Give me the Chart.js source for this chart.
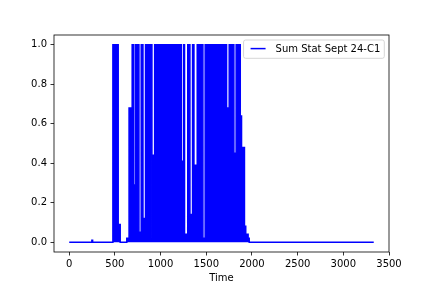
<!DOCTYPE html>
<html lang="en">
<head>
    <meta charset="UTF-8">
    <title>Sum Stat Sept 24-C1</title>
    <script src="https://cdn.jsdelivr.net/npm/chart.js"></script>
    <style>
        html, body { margin: 0; padding: 0; background: #fff; }
        #wrap { width: 432px; height: 288px; }
    </style>
</head>
<body>
    <div id="wrap"><canvas id="sumStatChart" width="432" height="288"></canvas></div>

    <script>
        // step breakpoints (Time) and the signal level that holds from each one
        const timeBreaks = [0, 248, 256, 478, 536, 558, 630, 655, 689, 701, 722, 763, 788, 807, 835,
                            905, 916, 924, 935, 1228, 1253, 1262, 1297, 1321, 1350, 1365, 1401, 1463,
                            1488, 1722, 1751, 1802, 1827, 1872, 1886, 1898, 1918, 1932, 1958, 1970, 3333];
        const sumStat = [0, 0.01, 0, 1, 0.09, 0, 0.02, 0.68, 1, 0.29, 1, 0.05, 1, 0.12, 1,
                         0.02, 0.44, 0.02, 1, 0.41, 1, 0.04, 1, 0.14, 1, 0.39, 1, 0.02,
                         1, 0.68, 1, 0.45, 1, 0.64, 0.41, 0.48, 0.08, 0.04, 0.02, 0, 0];
        const xTicks = [0, 500, 1000, 1500, 2000, 2500, 3000, 3500];
        const yTicks = [0, 0.2, 0.4, 0.6, 0.8, 1.0];
        const seriesLabel = 'Sum Stat Sept 24-C1';

        Chart.defaults.font.family = 'DejaVu Sans';
        Chart.defaults.font.size = 10;
        Chart.defaults.color = '#000';

        const points = timeBreaks.map((t, i) => ({ x: t, y: sumStat[i] }));

        // matplotlib style frame round the plot area
        const frame = {
            id: 'frame',
            afterDatasetsDraw(chart) {
                const a = chart.chartArea, ctx = chart.ctx;
                ctx.save();
                ctx.strokeStyle = '#000';
                ctx.lineWidth = 0.8;
                ctx.strokeRect(a.left, a.top, a.right - a.left, a.bottom - a.top);
                ctx.restore();
            }
        };

        // legend box in the upper right corner
        const boxLegend = {
            id: 'boxLegend',
            afterDraw(chart) {
                const a = chart.chartArea, ctx = chart.ctx;
                const ds = chart.data.datasets[0];
                ctx.save();
                ctx.font = '10px "DejaVu Sans"';
                const w = ctx.measureText(ds.label).width;
                const right = a.right - 4.7, top = a.top + 5, h = 18.3;
                const textX = right - 4 - w;
                const left = textX - 32;
                ctx.beginPath();
                ctx.roundRect(left, top, right - left, h, 2);
                ctx.fillStyle = 'rgba(255,255,255,0.8)';
                ctx.fill();
                ctx.strokeStyle = 'rgba(204,204,204,0.8)';
                ctx.lineWidth = 1;
                ctx.stroke();
                ctx.beginPath();
                ctx.moveTo(textX - 25, top + 8.6);
                ctx.lineTo(textX - 10, top + 8.6);
                ctx.strokeStyle = ds.borderColor;
                ctx.lineWidth = 1.5;
                ctx.stroke();
                ctx.fillStyle = '#000';
                ctx.textBaseline = 'middle';
                ctx.fillText(ds.label, textX, top + h / 2);
                ctx.restore();
            }
        };

        new Chart(document.getElementById('sumStatChart').getContext('2d'), {
            type: 'line',
            data: {
                datasets: [{
                    label: seriesLabel,
                    data: points,
                    borderColor: 'blue',
                    backgroundColor: 'blue',
                    borderWidth: 1.5,
                    fill: 'origin',
                    stepped: true,
                    pointRadius: 0,
                    tension: 0
                }]
            },
            options: {
                responsive: false,
                animation: false,
                events: [],
                layout: { padding: { left: 0, right: 43, top: 35, bottom: 0 } },
                plugins: { legend: { display: false }, tooltip: { enabled: false } },
                scales: {
                    x: {
                        type: 'linear',
                        min: -166.65,
                        max: 3500,
                        afterBuildTicks: s => { s.ticks = xTicks.map(v => ({ value: v })); },
                        afterFit: s => { s.height = 36; },
                        ticks: { padding: 3, maxRotation: 0, callback: v => String(v) },
                        grid: { drawOnChartArea: false, color: '#000', lineWidth: 0.8, tickLength: 3.5, tickWidth: 0.8 },
                        border: { display: false },
                        title: { display: true, text: 'Time', padding: { top: 0, bottom: 4 } }
                    },
                    y: {
                        min: -0.05,
                        max: 1.05,
                        afterBuildTicks: s => { s.ticks = yTicks.map(v => ({ value: v })); },
                        afterFit: s => { s.width = 54; },
                        ticks: { padding: 3.5, callback: v => v.toFixed(1) },
                        grid: { drawOnChartArea: false, color: '#000', lineWidth: 0.8, tickLength: 3.5, tickWidth: 0.8 },
                        border: { display: false }
                    }
                }
            },
            plugins: [frame, boxLegend]
        });
    </script>
</body>
</html>
